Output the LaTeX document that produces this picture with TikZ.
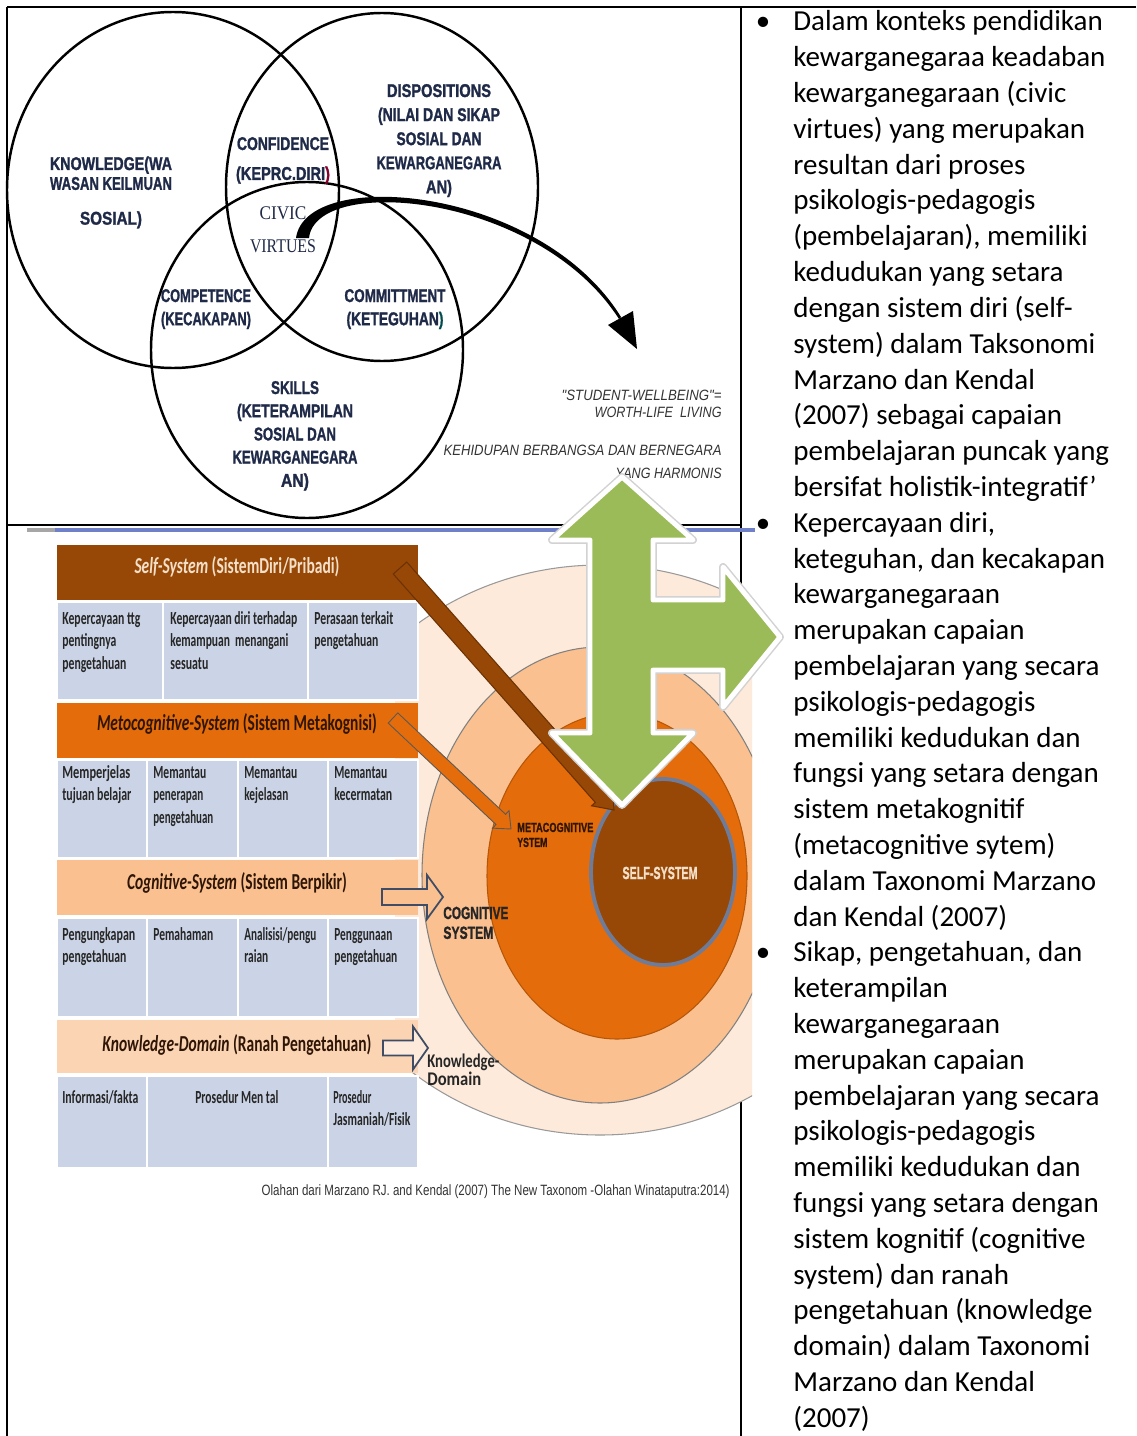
\documentclass[tikz,border=0pt]{standalone}
\usepackage{fontspec}
\usepackage{graphicx}
\setmainfont{Carlito}
\newfontfamily\arialf[BoldFeatures={FakeBold=1.5}]{Liberation Sans}
\newfontfamily\timesf{Liberation Serif}
\usetikzlibrary{calc}

\definecolor{navy}{HTML}{1F2A48}
\definecolor{selfbrown}{HTML}{974806}
\definecolor{metaorange}{HTML}{E46C0A}
\definecolor{cogpeach}{HTML}{FAC090}
\definecolor{knowpeach}{HTML}{FBD4B4}
\definecolor{outerpeach}{HTML}{FDEADA}
\definecolor{cellblue}{HTML}{CBD4E6}
\definecolor{arrowgreen}{HTML}{9BBB59}
\definecolor{slate}{HTML}{3E4C66}
\definecolor{rulerblue}{HTML}{6F7FC8}
\definecolor{darkbrown}{HTML}{2E1505}
\definecolor{cream}{HTML}{F4E0C8}
\definecolor{selfrim}{HTML}{6E7C9A}

% one unit of the picture
\newlength{\pxu}\setlength{\pxu}{0.02cm}
% squeeze a text to a given width
\newcommand{\fw}[2]{\resizebox{#1\pxu}{\height}{#2}}
\newcommand{\cl}[1]{\begin{tabular}[t]{@{}l@{}}#1\end{tabular}}
\newcommand{\cc}[1]{\begin{tabular}[t]{@{}c@{}}#1\end{tabular}}
% block arrow: style, from, to, half shaft, half head, head length
\newcommand{\blockarrow}[6]{%
  \coordinate (ba-h) at ($(#3)!#6!(#2)$);
  \filldraw[#1] ($(#2)!#4!90:(#3)$) -- ($(ba-h)!#4!90:(#3)$) -- ($(ba-h)!#5!90:(#3)$) -- (#3)
    -- ($(ba-h)!#5!-90:(#3)$) -- ($(ba-h)!#4!-90:(#3)$) -- ($(#2)!#4!-90:(#3)$) -- cycle;}

\tikzset{
  rule/.style={line width=1.2pt, black},
  vennline/.style={line width=1.4pt, black},
  venn/.style={inner sep=0, anchor=base, text=navy, font={\arialf\bfseries\fontsize{10.5}{13.2}\selectfont}},
  italab/.style={inner sep=0, anchor=base east, text=black!80, font={\arialf\itshape\fontsize{8.5}{10}\selectfont}},
  hdr/.style={inner sep=0, anchor=center, font={\bfseries\fontsize{13}{15}\selectfont}},
  cellbox/.style={fill=cellblue, draw=white, line width=1.2pt},
  celltxt/.style={inner sep=0, anchor=base west, text=black!85, font={\bfseries\fontsize{10.5}{13}\selectfont}},
  syslab/.style={inner sep=0, anchor=base west, font={\arialf\bfseries\fontsize{10}{11.3}\selectfont}},
  bodyline/.style={inner sep=0, anchor=base west, font={\fontsize{16.5}{19.5}\selectfont}},
  greenarrow/.style={fill=arrowgreen, draw=white, line width=2.8pt, line join=round},
}

\begin{document}
\begin{tikzpicture}[x=0.02cm, y=-0.02cm]
\useasboundingbox (0,0) rectangle (1136,1436);
\fill[white] (0,0) rectangle (1136,1436);

% table rules
\draw[rule] (7,7) -- (1136,7);
\draw[rule] (7,7) -- (7,1436);
\draw[rule] (741,7) -- (741,1436);
\draw[rule] (7,525) -- (741,525);

% venn diagram
\coordinate (know) at (173,190);
\coordinate (disp) at (382,187);
\coordinate (skill) at (307,350);
\draw[vennline] (know) ellipse [x radius=166, y radius=178];
\draw[vennline] (disp) ellipse [x radius=156, y radius=174];
\draw[vennline] (skill) ellipse [x radius=156, y radius=168];

\node[venn] (knowtxt) at (111,170) {\cc{\fw{122}{KNOWLEDGE(WA}\\[-1.9pt] \fw{122}{WASAN KEILMUAN}\\[6.6pt] \fw{62}{SOSIAL)}}};
\node[venn] (disptxt) at (439,97) {\cc{\fw{104}{DISPOSITIONS}\\[0.5pt] \fw{122}{(NILAI DAN SIKAP}\\[0.5pt] \fw{85}{SOSIAL DAN}\\[0.5pt] \fw{125}{KEWARGANEGARA}\\[0.5pt] \fw{26}{AN)}}};
\node[venn] (conftxt) at (283,150) {\cc{\fw{92}{CONFIDENCE}\\[3.8pt] \fw{94}{(KEPRC.DIRI{\color{purple!70!black})}}}};
\node[venn, font={\timesf\fontsize{11}{13.2}\selectfont}] (civic) at (283,219) {\cc{\fw{47}{CIVIC}\\[6pt] \fw{66}{VIRTUES}}};
\node[venn] (comptxt) at (206,302) {\cc{\fw{90}{COMPETENCE}\\ \fw{90}{(KECAKAPAN)}}};
\node[venn] (committxt) at (395,302) {\cc{\fw{101}{COMMITTMENT}\\ \fw{97}{(KETEGUHAN{\color{teal!60!black})}}}};
\node[venn] (skilltxt) at (295,394) {\cc{\fw{48}{SKILLS}\\ \fw{116}{(KETERAMPILAN}\\ \fw{82}{SOSIAL DAN}\\ \fw{125}{KEWARGANEGARA}\\ \fw{28}{AN)}}};

\node[italab] (wellbeing) at (722,400) {\fw{160}{"STUDENT-WELLBEING"=}};
\node[italab] (worthlife) at (722,417) {\fw{127}{WORTH-LIFE\ \ LIVING}};
\node[italab] (bangsa) at (722,455) {\fw{278}{KEHIDUPAN BERBANGSA DAN BERNEGARA}};
\node[italab] (harmonis) at (722,478) {\fw{106}{YANG HARMONIS}};

% curved arrow out of the centre
\fill (296,238) .. controls (306,166) and (540,186) .. (621,317) -- (619,319)
  .. controls (538,193) and (316,174) .. (309,238) -- cycle;
\fill (608,325) -- (633,311) -- (637,349) -- cycle;

% nested systems
\begin{scope}
  \clip (395,540) rectangle (752,1200);
  \filldraw[fill=outerpeach, draw=black!40, line width=0.6pt] (600,850) ellipse [x radius=300, y radius=285];
  \filldraw[fill=cogpeach, draw=black!50, line width=0.6pt] (600,875) ellipse [x radius=178, y radius=228];
  \filldraw[fill=metaorange, draw=metaorange!80!black, line width=0.6pt] (617,876) ellipse [x radius=130, y radius=163];
  \filldraw[fill=selfbrown, draw=selfrim, line width=2.2pt] (663,872) ellipse [x radius=72, y radius=93];
\end{scope}

% taxonomy table
\fill[selfbrown] (57,545) rectangle (418,600);
\filldraw[cellbox] (57,602) rectangle (163,700);
\filldraw[cellbox] (163,602) rectangle (308,700);
\filldraw[cellbox] (308,602) rectangle (418,700);
\fill[metaorange] (57,703) rectangle (418,758);
\foreach \a/\b in {57/147, 147/238, 238/328, 328/418}{
  \filldraw[cellbox] (\a,760) rectangle (\b,858);
  \filldraw[cellbox] (\a,918) rectangle (\b,1017);
}
\fill[cogpeach] (57,860) rectangle (418,915);
\fill[knowpeach] (57,1020) rectangle (418,1073);
\filldraw[cellbox] (57,1076) rectangle (147,1168);
\filldraw[cellbox] (147,1076) rectangle (328,1168);
\filldraw[cellbox] (328,1076) rectangle (418,1168);

\node[hdr, text=cream] (selfhdr) at (237,567) {\fw{205}{\textit{Self-System} (SistemDiri/Pribadi)}};
\node[hdr, text=darkbrown] (metahdr) at (237,724) {\fw{280}{\textit{Metocognitive-System} (Sistem Metakognisi)}};
\node[hdr, text=darkbrown] (coghdr) at (237,883) {\fw{220}{\textit{Cognitive-System} (Sistem Berpikir)}};
\node[hdr, text=darkbrown] (knowhdr) at (237,1045) {\fw{269}{\textit{Knowledge-Domain} (Ranah Pengetahuan)}};

\node[celltxt] (t11) at (62,624) {\cl{\fw{78}{Kepercayaan ttg}\\ \fw{54}{pentingnya}\\ \fw{64}{pengetahuan}}};
\node[celltxt] (t12) at (170,624) {\cl{\fw{127}{Kepercayaan diri terhadap}\\ \fw{118}{kemampuan\ \ menangani}\\ \fw{38}{sesuatu}}};
\node[celltxt] (t13) at (314,624) {\cl{\fw{79}{Perasaan terkait}\\ \fw{64}{pengetahuan}}};
\node[celltxt] (t21) at (62,778) {\cl{\fw{68}{Memperjelas}\\ \fw{69}{tujuan belajar}}};
\node[celltxt] (t22) at (153,778) {\cl{\fw{53}{Memantau}\\ \fw{50}{penerapan}\\ \fw{60}{pengetahuan}}};
\node[celltxt] (t23) at (244,778) {\cl{\fw{53}{Memantau}\\ \fw{44}{kejelasan}}};
\node[celltxt] (t24) at (334,778) {\cl{\fw{53}{Memantau}\\ \fw{58}{kecermatan}}};
\node[celltxt] (t31) at (62,940) {\cl{\fw{73}{Pengungkapan}\\ \fw{64}{pengetahuan}}};
\node[celltxt] (t32) at (153,940) {\cl{\fw{60}{Pemahaman}}};
\node[celltxt] (t33) at (244,940) {\cl{\fw{72}{Analisisi/pengu}\\ \fw{24}{raian}}};
\node[celltxt] (t34) at (334,940) {\cl{\fw{58}{Penggunaan}\\ \fw{63}{pengetahuan}}};
\node[celltxt] (t41) at (62,1103) {\cl{\fw{76}{Informasi/fakta}}};
\node[celltxt] (t42) at (195,1103) {\cl{\fw{83}{Prosedur Men tal}}};
\node[celltxt] (t43) at (333,1103) {\cl{\fw{38}{Prosedur}\\ \fw{77}{Jasmaniah/Fisik}}};

\draw[line width=2.2pt, gray!70] (27,530) -- (55,530);
\draw[line width=2.2pt, rulerblue] (55,530) -- (755,530);

% arrows from the table into the circles
\coordinate (cogfrom) at (382,897);  \coordinate (cogto) at (443,897);
\coordinate (knowfrom) at (383,1048); \coordinate (knowto) at (428,1048);
\coordinate (metafrom) at (393,718); \coordinate (metato) at (511,829);
\coordinate (selffrom) at (400,568); \coordinate (selfto) at (614,810);
\blockarrow{fill=cogpeach, draw=slate, line width=1pt}{cogfrom}{cogto}{0.16cm}{0.44cm}{0.32cm}
\blockarrow{fill=outerpeach, draw=slate, line width=1pt}{knowfrom}{knowto}{0.15cm}{0.43cm}{0.3cm}
\blockarrow{fill=metaorange, draw=gray!70!black, line width=0.5pt}{metafrom}{metato}{0.14cm}{0.24cm}{0.28cm}
\blockarrow{fill=selfbrown, draw=selfbrown!70!black, line width=0.6pt}{selffrom}{selfto}{0.18cm}{0.28cm}{0.36cm}

\node[syslab, text=darkbrown, font={\arialf\bfseries\fontsize{7.5}{8.5}\selectfont}] (metalab) at (517,832) {\cl{\fw{76}{METACOGNITIVE}\\ \fw{30}{YSTEM}}};
\node[syslab, text=black!85] (coglab) at (443,919) {\cl{\fw{65}{COGNITIVE}\\ \fw{50}{SYSTEM}}};
\node[syslab, anchor=center, text=cream] (selflab) at (660,873) {\fw{75}{SELF-SYSTEM}};
\node[syslab, text=black!85, font={\bfseries\fontsize{11}{10.2}\selectfont}] (knowlab) at (427,1067) {\cl{\fw{72}{Knowledge-}\\ \fw{54}{Domain}}};

% green double arrow with the side arm
\draw[gray!35, line width=4.5pt, line join=round] (622,477) -- (693,540) -- (653,540) -- (653,600) -- (723,600) -- (723,567) -- (780,637) -- (723,707) -- (723,670) -- (653,670) -- (653,733) -- (693,733) -- (622,805) -- (552,733) -- (590,733) -- (590,540) -- (552,540) -- cycle;
\filldraw[greenarrow] (622,477) -- (693,540) -- (653,540) -- (653,600) -- (723,600) -- (723,567) -- (780,637) -- (723,707) -- (723,670) -- (653,670) -- (653,733) -- (693,733) -- (622,805) -- (552,733) -- (590,733) -- (590,540) -- (552,540) -- cycle;

\node[inner sep=0, anchor=base east, text=black!80, font={\arialf\fontsize{8.5}{10}\selectfont}] (caption) at (730,1195) {\fw{468}{Olahan dari Marzano RJ. and Kendal (2007) The New Taxonom -Olahan Winataputra:2014)}};

% right column
\foreach \k in {1,15,27}{\node[bodyline, anchor=base] (bullet\k) at (763,{31+35.8*(\k-1)}) {•};}
\foreach \txt [count=\k] in {
  {Dalam konteks pendidikan},
  {kewarganegaraa keadaban},
  {kewarganegaraan (civic},
  {virtues) yang merupakan},
  {resultan dari proses},
  {psikologis-pedagogis},
  {(pembelajaran), memiliki},
  {kedudukan yang setara},
  {dengan sistem diri (self-},
  {system) dalam Taksonomi},
  {Marzano dan Kendal},
  {(2007) sebagai capaian},
  {pembelajaran puncak yang},
  {bersifat holistik-integratif’},
  {Kepercayaan diri,},
  {keteguhan, dan kecakapan},
  {kewarganegaraan},
  {merupakan capaian},
  {pembelajaran yang secara},
  {psikologis-pedagogis},
  {memiliki kedudukan dan},
  {fungsi yang setara dengan},
  {sistem metakognitif},
  {(metacognitive sytem)},
  {dalam Taxonomi Marzano},
  {dan Kendal (2007)},
  {Sikap, pengetahuan, dan},
  {keterampilan},
  {kewarganegaraan},
  {merupakan capaian},
  {pembelajaran yang secara},
  {psikologis-pedagogis},
  {memiliki kedudukan dan},
  {fungsi yang setara dengan},
  {sistem kognitif (cognitive},
  {system) dan ranah},
  {pengetahuan (knowledge},
  {domain) dalam Taxonomi},
  {Marzano dan Kendal},
  {(2007)}}
  {\node[bodyline] (line\k) at (793,{31+35.8*(\k-1)}) {\txt};}
\end{tikzpicture}
\end{document}
